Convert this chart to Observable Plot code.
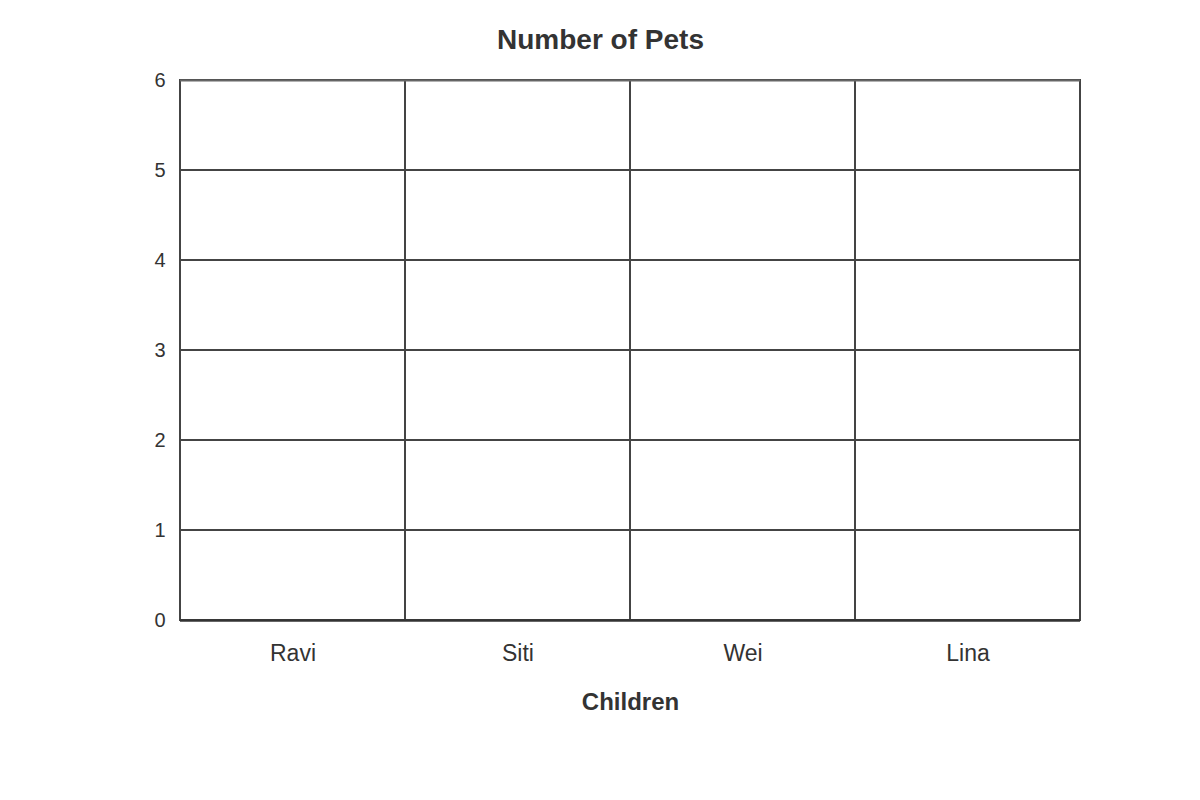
<!DOCTYPE html>
<html>
<head>
<meta charset="utf-8">
<script src="https://cdn.jsdelivr.net/npm/d3@7"></script>
<script src="https://cdn.jsdelivr.net/npm/@observablehq/plot@0.6"></script>
<style>
  html, body { margin: 0; padding: 0; background: #fff; }
  #chart { width: 1200px; height: 800px; }
  svg { font-family: "Liberation Sans", Arial, sans-serif; }
</style>
</head>
<body>
<div id="chart"></div>
<script>
const title = "Number of Pets";
const xLabel = "Children";
const children = ["Ravi", "Siti", "Wei", "Lina"];
const yTicks = [0, 1, 2, 3, 4, 5, 6];
const pets = []; // no values plotted in the reference (empty grid)

const cells = [];
for (const c of children) {
  for (let k = 0; k < yTicks.length - 1; k++) {
    cells.push({name: c, y1: yTicks[k], y2: yTicks[k + 1]});
  }
}

const plot = Plot.plot({
  width: 1200,
  height: 800,
  marginLeft: 180,
  marginRight: 120,
  marginTop: 80,
  marginBottom: 180,
  style: {background: "#fff", color: "#333", fontFamily: "'Liberation Sans', Arial, sans-serif"},
  x: {type: "band", domain: children, padding: 0, label: null, tickSize: 0, tickPadding: 24},
  y: {domain: [0, 6], ticks: yTicks, label: null, tickSize: 0, tickPadding: 15, tickFormat: d3.format("d")},
  marks: [
    Plot.barY(cells, {x: "name", y1: "y1", y2: "y2", fill: "none", stroke: "#444", strokeWidth: 2, inset: 0}),
    Plot.barY(pets, {x: "name", y: "value", fill: "#4e79a7"}),
    Plot.ruleY([6], {stroke: "#666", strokeWidth: 2}),
    Plot.ruleY([0], {stroke: "#333", strokeWidth: 2.5}),
    Plot.text([title], {frameAnchor: "top", lineAnchor: "middle", dx: -30, dy: -40, text: d => d, fontSize: 28, fontWeight: "bold", fill: "#333"}),
    Plot.text([xLabel], {frameAnchor: "bottom", lineAnchor: "middle", dy: 82, text: d => d, fontSize: 24, fontWeight: "bold", fill: "#333"})
  ]
});

plot.querySelectorAll('[aria-label="y-axis tick label"]').forEach(g => g.setAttribute("font-size", "20"));
plot.querySelectorAll('[aria-label="x-axis tick label"]').forEach(g => g.setAttribute("font-size", "23"));
document.getElementById("chart").appendChild(plot);
</script>
</body>
</html>
